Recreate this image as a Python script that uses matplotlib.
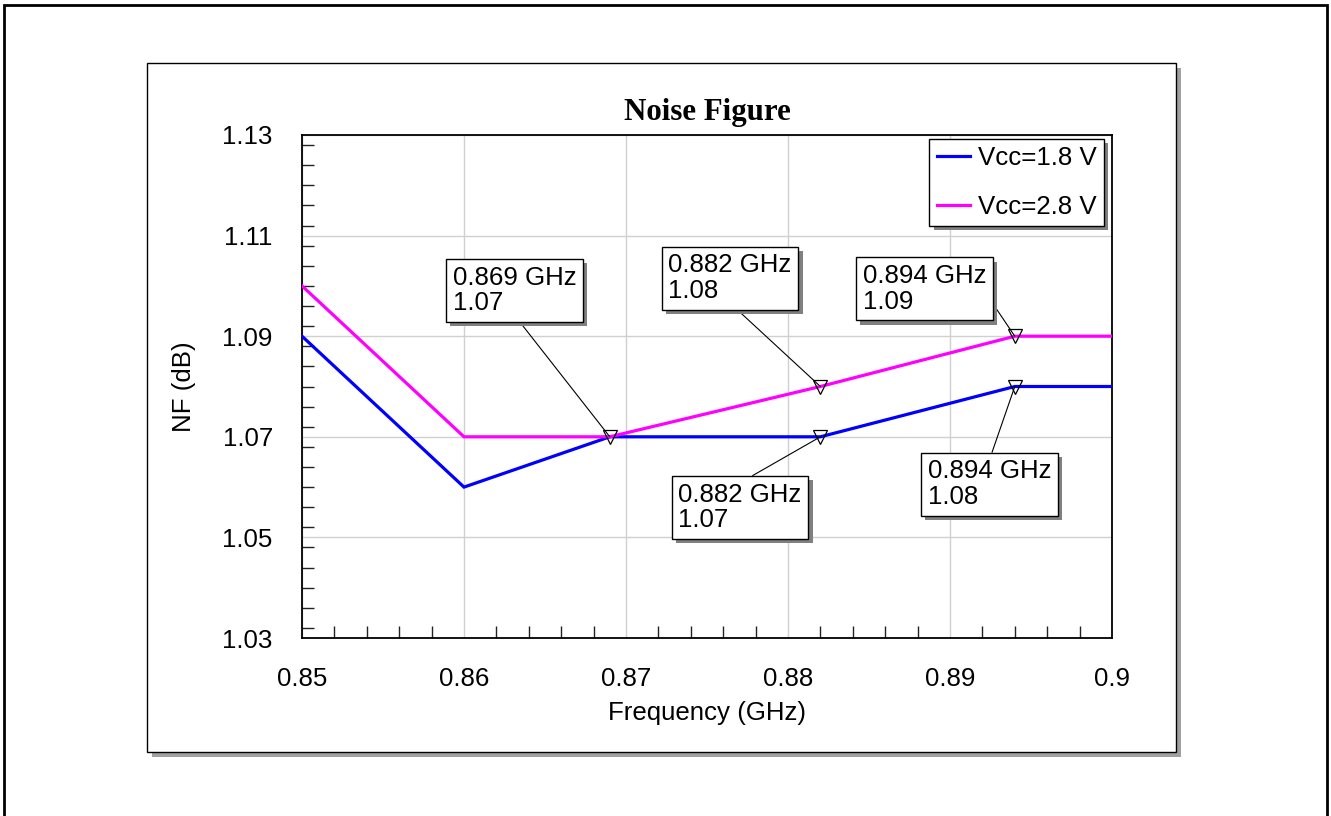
import numpy as np
import matplotlib
matplotlib.use("Agg")
import matplotlib.pyplot as plt
from matplotlib.patches import Rectangle
from matplotlib.ticker import MultipleLocator
import matplotlib.patheffects as pe

# ---- data ----
freq_18 = [0.85, 0.86, 0.869, 0.882, 0.894, 0.90]
nf_18 = [1.09, 1.06, 1.07, 1.07, 1.08, 1.08]
freq_28 = [0.85, 0.86, 0.869, 0.882, 0.894, 0.90]
nf_28 = [1.10, 1.07, 1.07, 1.08, 1.09, 1.09]
label_18 = "Vcc=1.8 V"
label_28 = "Vcc=2.8 V"
marker_freq_18 = [0.882, 0.894]
marker_freq_28 = [0.869, 0.882, 0.894]
title = "Noise Figure"
xlabel = "Frequency (GHz)"
ylabel = "NF (dB)"
xticks = [0.85, 0.86, 0.87, 0.88, 0.89, 0.90]
xticklabels = ["0.85", "0.86", "0.87", "0.88", "0.89", "0.9"]
yticks = [1.03, 1.05, 1.07, 1.09, 1.11, 1.13]
yticklabels = ["1.03", "1.05", "1.07", "1.09", "1.11", "1.13"]

W, H = 1331, 816
DPI = 100
fig = plt.figure(figsize=(W / DPI, H / DPI), dpi=DPI)
fig.patch.set_facecolor("white")

SANS = ["Liberation Sans", "DejaVu Sans"]
SERIF = ["Liberation Serif", "DejaVu Serif"]
FS = 18.6


def fx(px):
    return px / W


def fy(py):
    return 1 - py / H


# outer frame
fig.add_artist(Rectangle((fx(4), fy(830)), fx(1327) - fx(4), fy(5) - fy(830),
                         transform=fig.transFigure, fill=False, edgecolor="black",
                         linewidth=2.0, zorder=-5))
# inner panel shadow + panel
sh = 5
fig.add_artist(Rectangle((fx(147 + sh), fy(752 + sh)), fx(1176) - fx(147), fy(63) - fy(752),
                         transform=fig.transFigure, facecolor="#a0a0a0", edgecolor="none",
                         zorder=-4))
fig.add_artist(Rectangle((fx(147), fy(752)), fx(1176) - fx(147), fy(63) - fy(752),
                         transform=fig.transFigure, facecolor="white", edgecolor="black",
                         linewidth=1.0, zorder=-3))

ax_l, ax_r, ax_t, ax_b = 302, 1112, 135, 638
ax = fig.add_axes([fx(ax_l), fy(ax_b), fx(ax_r) - fx(ax_l), fy(ax_t) - fy(ax_b)])

ax.plot(freq_18, nf_18, color="#0000ff", linewidth=2.3, label=label_18, zorder=3,
        solid_joinstyle="miter")
ax.plot(freq_28, nf_28, color="#ff00ff", linewidth=2.3, label=label_28, zorder=3,
        solid_joinstyle="miter")

ax.set_xlim(xticks[0], xticks[-1])
ax.set_ylim(yticks[0], yticks[-1])
ax.set_xticks(xticks)
ax.set_xticklabels(xticklabels, fontfamily=SANS, fontsize=FS)
ax.set_yticks(yticks)
ax.set_yticklabels(yticklabels, fontfamily=SANS, fontsize=FS)
ax.xaxis.set_minor_locator(MultipleLocator(0.002))
ax.yaxis.set_minor_locator(MultipleLocator(0.004))
ax.tick_params(which="major", length=0, pad=21)
ax.tick_params(which="minor", direction="in", length=8.6, width=1.0, color="#222222")
ax.grid(which="major", color="#d0d0d0", linewidth=1.0)
ax.set_axisbelow(True)
for s in ax.spines.values():
    s.set_linewidth(1.3)
    s.set_color("black")

ax.set_xlabel(xlabel, fontfamily=SANS, fontsize=FS, labelpad=7)
ax.set_ylabel(ylabel, fontfamily=SANS, fontsize=FS, labelpad=19)
ax.set_title(title, fontfamily=SERIF, fontweight="bold", fontsize=22.2, pad=11)

# markers
mk_y18 = np.interp(marker_freq_18, freq_18, nf_18)
mk_y28 = np.interp(marker_freq_28, freq_28, nf_28)
ax.plot(marker_freq_18, mk_y18, linestyle="none", marker="v", markersize=10.5,
        markerfacecolor="none", markeredgecolor="black", markeredgewidth=0.9, zorder=4)
ax.plot(marker_freq_28, mk_y28, linestyle="none", marker="v", markersize=10.5,
        markerfacecolor="none", markeredgecolor="black", markeredgewidth=0.9, zorder=4)

# annotation layout (pixel offsets of text, arrow attachment relpos)
layout_28 = [((-157, 171), (0.5, 0.0)), ((-152, 133), (0.5, 0.0)), ((-152, 72), (1.0, 0.4))]
layout_18 = [((-142, -46), (0.5, 1.0)), ((-87, -73), (0.5, 1.0))]

shadow = [pe.SimplePatchShadow(offset=(3, -3), shadow_rgbFace="#808080", alpha=1.0), pe.Normal()]


def annotate(f, v, off, rel):
    a = ax.annotate(f"{f:.3f} GHz\n{v:.2f}", xy=(f, v), xytext=off, textcoords="offset pixels",
                    ha="left", va="top", fontsize=FS, fontfamily=SANS, linespacing=1.08,
                    bbox=dict(boxstyle="square,pad=0.26", facecolor="white", edgecolor="black",
                              linewidth=1.0),
                    arrowprops=dict(arrowstyle="-", color="black", linewidth=0.8,
                                    shrinkA=0, shrinkB=0, relpos=rel),
                    zorder=5, annotation_clip=False)
    a.get_bbox_patch().set_path_effects(shadow)


for f, v, (off, rel) in zip(marker_freq_28, mk_y28, layout_28):
    annotate(f, v, off, rel)
for f, v, (off, rel) in zip(marker_freq_18, mk_y18, layout_18):
    annotate(f, v, off, rel)

leg = ax.legend(loc="upper right", bbox_to_anchor=((1104 - ax_l) / (ax_r - ax_l), (ax_b - 139) / (ax_b - ax_t)),
                borderaxespad=0, fancybox=False, framealpha=1, edgecolor="black",
                prop={"family": SANS, "size": FS}, handlelength=1.3, handletextpad=0.3,
                labelspacing=0.95, borderpad=0.28)
leg.get_frame().set_linewidth(1.0)
leg.get_frame().set_path_effects(shadow)
leg.set_zorder(6)

fig.savefig("out.png", dpi=DPI)
